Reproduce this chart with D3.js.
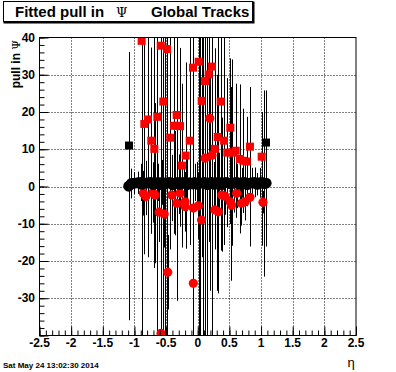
<!DOCTYPE html>
<html>
<head>
<meta charset="utf-8">
<script src="https://cdn.jsdelivr.net/npm/d3@7"></script>
<style>
  body { margin: 0; background: #fff; }
  text { font-family: "Liberation Sans", Arial, sans-serif; }
</style>
</head>
<body>
<div id="chart"></div>
<script>
// values: [eta, pull, error]
var redSquares = [
  [-0.886, 39.1, 50], [-0.585, 37.8, 80], [-0.486, 36.9, 80], [-0.544, 22.8, 40],
  [-0.333, 19.2, 38], [-0.786, 18.0, 37], [-0.844, 16.8, 35], [-0.639, 18.7, 60],
  [-0.375, 16.3, 29], [-0.32, 16.3, 47], [-0.28, 16.2, 21], [-0.434, 13.1, 30],
  [-0.734, 12.3, 25], [-0.686, 10.1, 32], [-0.25, 5.6, 22], [-0.19, 8.3, 25],
  [-0.127, 12.3, 28], [-0.075, 31.9, 45], [0.015, 33.5, 75], [0.062, 23.0, 40],
  [0.115, 28.3, 70], [0.173, 30.1, 45], [0.225, 32.2, 74], [0.362, 22.8, 40],
  [0.268, 10.1, 27], [0.315, 13.3, 42], [0.415, 12.3, 28], [0.514, 15.8, 18.6],
  [0.467, 9.1, 20], [0.54, 9.1, 25], [0.60, 9.6, 18], [0.667, 7.4, 20],
  [0.72, 6.9, 14], [0.773, 6.7, 12], [0.825, 10.7, 16], [1.01, 8.0, 12]
];

var redCircles = [
  [-0.86, -1.8, 6], [-0.82, -2.7, 5], [-0.71, -1.7, 8], [-0.675, -2.3, 6],
  [-0.41, -2.3, 7], [-0.28, -1.8, 9], [-0.33, -4.5, 10], [-0.2, -4.1, 8],
  [-0.2, -5.4, 6], [-0.07, -5.8, 7], [0.01, -5.2, 9], [-0.61, -6.9, 8],
  [-0.53, -7.4, 9], [0.06, -9.0, 10], [0.27, -6.3, 8], [0.325, -6.8, 7],
  [0.38, -2.3, 6], [0.43, -2.6, 5], [0.51, -4.1, 6], [0.535, -5.0, 5],
  [0.615, -1.8, 4], [0.69, -4.5, 6], [0.75, -4.1, 5], [0.825, -2.9, 4],
  [1.03, -4.2, 3], [-0.475, -23.0, 10], [-0.07, -26.0, 15], [-0.58, -39.4, 5],
  [0.19, 18.3, 12], [0.115, 7.6, 8], [0.225, 8.4, 8]
];

var blackCircles = [
  [-1.09, 0.1, 36], [-1.05, 0.8, 4], [-1.0, 0.9, 3], [-0.95, 1.0, 3],
  [-0.9, 1.1, 5], [-0.886, 0.6, 45], [-0.82, 0.9, 6], [-0.78, 1.0, 4],
  [-0.74, 1.1, 7], [-0.70, 0.5, 6], [-0.67, 0.9, 21.5], [-0.63, 1.1, 5],
  [-0.55, 0.4, 45], [-0.56, 1.1, 6], [-0.52, 0.7, 45], [-0.48, 1.0, 5],
  [-0.44, 1.1, 6], [-0.40, 0.5, 8], [-0.36, 0.9, 14], [-0.32, 1.1, 6],
  [-0.29, 0.6, 8], [-0.25, 1.0, 17], [-0.21, 1.1, 5], [-0.17, 0.5, 7],
  [-0.13, 1.0, 6], [-0.08, 0.7, 45], [-0.05, 1.1, 5], [-0.01, 0.6, 6],
  [0.04, 0.9, 45], [0.08, 1.0, 45], [0.11, 1.1, 6], [0.15, 0.5, 45],
  [0.19, 1.0, 29], [0.22, 1.1, 7], [0.26, 0.6, 6], [0.30, 1.0, 29],
  [0.34, 1.1, 8], [0.38, 0.5, 18], [0.42, 1.0, 7], [0.46, 1.1, 5],
  [0.52, 0.7, 26], [0.54, 0.9, 6], [0.58, 1.0, 8], [0.62, 1.1, 5],
  [0.66, 0.6, 6], [0.70, 1.0, 4], [0.74, 1.1, 6], [0.78, 0.5, 5],
  [0.82, 0.9, 17], [0.86, 1.0, 4], [0.9, 1.1, 4], [0.94, 0.6, 3],
  [0.98, 1.0, 4], [1.02, 1.1, 17], [1.05, 0.8, 25], [1.08, 0.9, 17]
];

var blackSquares = [[-1.086, 11.0, 25], [1.078, 11.8, 14]];

var xMajor = [-2.5, -2, -1.5, -1, -0.5, 0, 0.5, 1, 1.5, 2, 2.5];
var yMajor = [-40, -30, -20, -10, 0, 10, 20, 30, 40];

var W = 396, H = 372;
var fr = { left: 39.5, right: 356, top: 37.5, bottom: 335.5 };

var svg = d3.select("#chart").append("svg")
    .attr("width", W)
    .attr("height", H);

var x = d3.scaleLinear().domain([-2.5, 2.5]).range([fr.left, fr.right]);
var y = d3.scaleLinear().domain([-40, 40]).range([fr.bottom, fr.top]);

var xMinor = d3.range(-25, 26).map(function (d) { return d / 10; });
var yMinor = d3.range(-20, 21).map(function (d) { return d * 2; });

// title box
svg.append("rect").attr("x", 4.5).attr("y", 2.5).attr("width", 249).attr("height", 20)
    .attr("fill", "none").attr("stroke", "#000").attr("stroke-width", 2);
svg.append("rect").attr("x", 3.5).attr("y", 1.5).attr("width", 249).attr("height", 20)
    .attr("fill", "#fff").attr("stroke", "#000");
var title = svg.append("text").attr("x", 15).attr("y", 17)
    .attr("font-size", 15).attr("font-weight", "bold");
title.append("tspan").text("Fitted pull in");
title.append("tspan").attr("x", 116).attr("font-weight", "normal")
    .attr("font-family", "DejaVu Serif").attr("font-size", 13).text("Ψ");
title.append("tspan").attr("x", 151).text("Global Tracks");

// grid
var grid = svg.append("g").attr("stroke", "#000").attr("stroke-dasharray", "1,2");
grid.selectAll(".gx").data(xMajor.slice(1, -1)).enter().append("line")
    .attr("x1", function (d) { return Math.round(x(d)) + 0.5; })
    .attr("x2", function (d) { return Math.round(x(d)) + 0.5; })
    .attr("y1", fr.top).attr("y2", fr.bottom);
grid.selectAll(".gy").data(yMajor.slice(1, -1)).enter().append("line")
    .attr("y1", function (d) { return Math.round(y(d)) + 0.5; })
    .attr("y2", function (d) { return Math.round(y(d)) + 0.5; })
    .attr("x1", fr.left).attr("x2", fr.right);

// clip to frame
svg.append("clipPath").attr("id", "frame")
    .append("rect").attr("x", fr.left).attr("y", fr.top)
    .attr("width", fr.right - fr.left).attr("height", fr.bottom - fr.top);

var plot = svg.append("g").attr("clip-path", "url(#frame)");

var all = [].concat(blackCircles, redSquares, redCircles, blackSquares);

// error bars
plot.append("g").selectAll("line").data(all).enter().append("line")
    .attr("x1", function (d) { return Math.round(x(d[0])) + 0.5; })
    .attr("x2", function (d) { return Math.round(x(d[0])) + 0.5; })
    .attr("y1", function (d) { return y(d[1] - d[2]); })
    .attr("y2", function (d) { return y(d[1] + d[2]); })
    .attr("stroke", "#000")
    .attr("stroke-width", 1);

plot.append("g").selectAll("rect").data(redSquares).enter().append("rect")
    .attr("x", function (d) { return x(d[0]) - 4; })
    .attr("y", function (d) { return y(d[1]) - 4; })
    .attr("width", 8).attr("height", 8)
    .attr("fill", "#ff0000");

plot.append("g").selectAll("circle").data(redCircles).enter().append("circle")
    .attr("cx", function (d) { return x(d[0]); })
    .attr("cy", function (d) { return y(d[1]); })
    .attr("r", 4.6)
    .attr("fill", "#ff0000");

plot.append("g").selectAll("circle").data(blackCircles).enter().append("circle")
    .attr("cx", function (d) { return x(d[0]); })
    .attr("cy", function (d) { return y(d[1]); })
    .attr("r", 5.5)
    .attr("fill", "#000");

plot.append("g").selectAll("rect").data(blackSquares).enter().append("rect")
    .attr("x", function (d) { return x(d[0]) - 4; })
    .attr("y", function (d) { return y(d[1]) - 4; })
    .attr("width", 8).attr("height", 8)
    .attr("fill", "#000");

// axes: ticks point into the frame
function clean(g) { g.select(".domain").remove(); g.selectAll("text").remove(); }

svg.append("g").attr("transform", "translate(" + fr.left + ",0)")
    .call(d3.axisLeft(y).tickValues(yMinor).tickSize(-5)).call(clean);
svg.append("g").attr("transform", "translate(" + fr.left + ",0)")
    .call(d3.axisLeft(y).tickValues(yMajor).tickSize(-9)).call(clean);
svg.append("g").attr("transform", "translate(0," + fr.bottom + ")")
    .call(d3.axisBottom(x).tickValues(xMinor).tickSize(-5)).call(clean);
svg.append("g").attr("transform", "translate(0," + fr.bottom + ")")
    .call(d3.axisBottom(x).tickValues(xMajor).tickSize(-9)).call(clean);

// frame
svg.append("rect").attr("x", fr.left).attr("y", fr.top)
    .attr("width", fr.right - fr.left).attr("height", fr.bottom - fr.top)
    .attr("fill", "none").attr("stroke", "#000");

// tick labels
svg.append("g").selectAll("text").data(yMajor.filter(function (d) { return d > -40; }))
    .enter().append("text")
    .attr("x", 35).attr("y", function (d) { return y(d); })
    .attr("dy", "0.35em")
    .attr("text-anchor", "end")
    .attr("font-size", 12).attr("font-weight", "bold")
    .text(function (d) { return d; });

svg.append("g").selectAll("text").data(xMajor).enter().append("text")
    .attr("x", function (d) { return x(d); }).attr("y", 347)
    .attr("text-anchor", "middle")
    .attr("font-size", 12).attr("font-weight", "bold")
    .text(function (d) { return d; });

// axis titles
var ylab = svg.append("text")
    .attr("transform", "translate(20,40) rotate(-90)")
    .attr("text-anchor", "end")
    .attr("font-size", 12).attr("font-weight", "bold");
ylab.append("tspan").text("pull in  ");
ylab.append("tspan").attr("font-weight", "normal").attr("font-family", "DejaVu Serif")
    .attr("font-size", 11).text("Ψ");

svg.append("text").attr("x", 351).attr("y", 367)
    .attr("text-anchor", "middle")
    .attr("font-family", "DejaVu Serif").attr("font-size", 13)
    .text("η");

svg.append("text").attr("x", 3).attr("y", 368)
    .attr("font-size", 8).attr("font-weight", "bold")
    .text("Sat May 24 13:02:30 2014");
</script>
</body>
</html>
